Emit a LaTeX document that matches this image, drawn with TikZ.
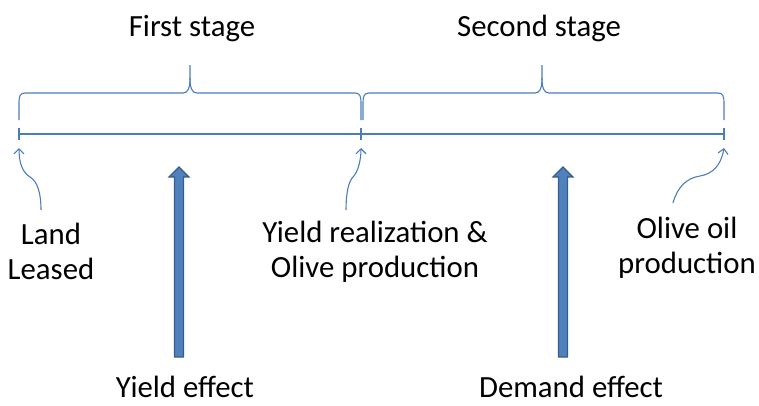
\documentclass[tikz,border=0pt]{standalone}
\usepackage{fontspec}
\setmainfont{Carlito}
\usetikzlibrary{arrows.meta}
\definecolor{lineblue}{HTML}{4A7EBB}
\definecolor{arrowfill}{HTML}{4F81BD}
\definecolor{arrowdraw}{HTML}{385D8A}
\tikzset{
  thinline/.style={draw=lineblue, line width=1.1pt},
  pointer/.style={thinline, -{Straight Barb[length=5pt,width=10pt,line width=1.1pt]}},
  lbl/.style={font=\fontsize{30.8}{35}\selectfont, inner sep=0pt, align=center, text=black},
  bigarrow/.style={fill=arrowfill, draw=arrowdraw, line width=1.2pt, line join=miter}
}
\begin{document}
\begin{tikzpicture}[x=1pt,y=-1pt]
\useasboundingbox (0,0) rectangle (759,405);

% titles
\node[lbl, anchor=base] (first) at (192,36) {First stage};
\node[lbl, anchor=base] (second) at (539,36) {Second stage};

% braces
\draw[thinline] (19,120) -- (19,104) .. controls (19,96) and (20,93) .. (25,93)
  -- (183,93) .. controls (188,93) and (190,88) .. (190,78) -- (190,65);
\draw[thinline] (190,78) .. controls (190,88) and (192,93) .. (197,93)
  -- (355,93) .. controls (360,93) and (361,96) .. (361,104) -- (361,120);
\draw[thinline] (363,120) -- (363,104) .. controls (363,96) and (364,93) .. (369,93)
  -- (535,93) .. controls (540,93) and (542,88) .. (542,78) -- (542,65);
\draw[thinline] (542,78) .. controls (542,88) and (544,93) .. (549,93)
  -- (718,93) .. controls (723,93) and (724,96) .. (724,104) -- (724,120);

% timeline
\coordinate (t0) at (19,134);
\coordinate (t1) at (361,134);
\coordinate (t2) at (724,134);
\draw[thinline] (t0) -- (t2);
\foreach \p in {t0,t1,t2} \draw[thinline] ([yshift=-6pt]\p) -- ([yshift=6pt]\p);

% event labels
\node[lbl] (land) at (51,251) {Land\\Leased};
\node[lbl] (yield) at (375,252) {Yield realization \&\\Olive production};
\node[lbl] (oil) at (687,248) {Olive oil\\production};

% curved pointers
\coordinate (p0) at (19,148);
\coordinate (p1) at (361,148);
\coordinate (p2) at (724,148);
\coordinate (s0) at (41,210);
\coordinate (s1) at (346,210);
\coordinate (s2) at (673,203);
\draw[pointer] (s0) .. controls (41,192) and (37,181) .. (30,177)
  .. controls (22,172) and (19,162) .. (p0);
\draw[pointer] (s1) .. controls (346,195) and (348,182) .. (353,177)
  .. controls (358,172) and (361,160) .. (p1);
\draw[pointer] (s2) .. controls (677,188) and (686,178) .. (700,176)
  .. controls (712,174) and (721,166) .. (p2);

% big arrows
\foreach \cx/\nm in {179/ya, 563/da}{
  \draw[bigarrow] (\cx-4.5,357) -- (\cx-4.5,177) -- (\cx-10,177) -- (\cx,167)
    -- (\cx+10,177) -- (\cx+4.5,177) -- (\cx+4.5,357) -- cycle;
}
\node[lbl, anchor=base] (yeff) at (185,397) {Yield effect};
\node[lbl, anchor=base] (deff) at (571,397) {Demand effect};
\end{tikzpicture}
\end{document}
